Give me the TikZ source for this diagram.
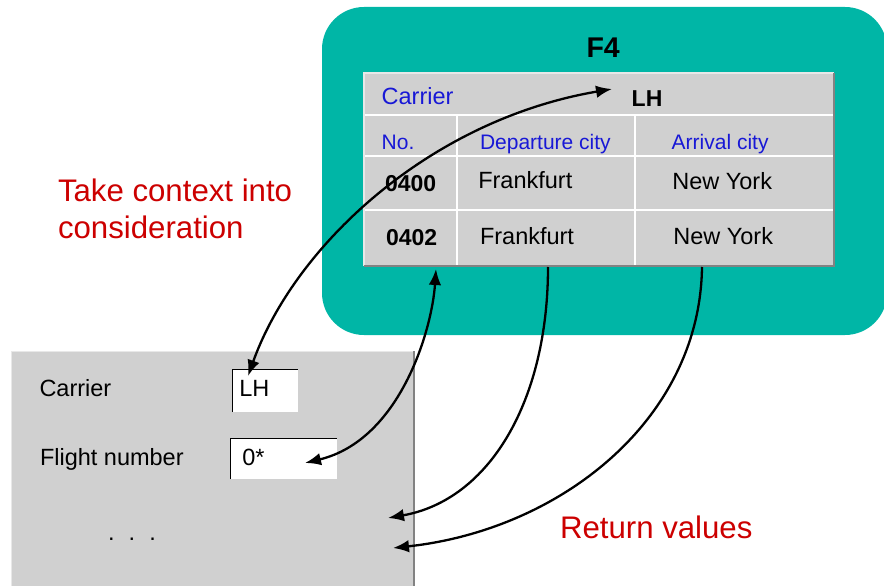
\documentclass[tikz,border=0pt]{standalone}
\usepackage{fontspec}
\setmainfont{Liberation Sans}
\usetikzlibrary{arrows.meta}
\definecolor{teal1}{RGB}{0,182,166}
\definecolor{cellgray}{RGB}{208,208,208}
\definecolor{hdrblue}{RGB}{24,24,214}
\definecolor{redtxt}{RGB}{204,0,0}
\definecolor{darkedge}{RGB}{130,130,130}
\definecolor{lightedge}{RGB}{232,232,232}
\tikzset{
  txt/.style={anchor=base west,inner sep=0pt,outer sep=0pt},
  cell/.style={txt,font=\fontsize{23.5}{28}\selectfont},
  cellb/.style={txt,font=\fontsize{23}{28}\selectfont\bfseries},
  hdr/.style={txt,text=hdrblue,font=\fontsize{21}{25}\selectfont},
  redlbl/.style={txt,text=redtxt,font=\fontsize{31.2}{36}\selectfont},
  conn/.style={line width=2.3pt,black},
  tipA/.style={-{Latex[length=16pt,width=12.5pt]}},
  tipB/.style={{Latex[length=16pt,width=12.5pt]}-{Latex[length=16pt,width=12.5pt]}},
}
\begin{document}
\begin{tikzpicture}[x=1pt,y=-1pt]
\useasboundingbox (0,0) rectangle (884,586);
% teal screen
\fill[teal1,rounded corners=42pt] (322,7) rectangle (887,335);
\node[txt,font=\fontsize{28.5}{34}\selectfont\bfseries] (f4) at (586.5,57.3) {F4};
% table
\fill[cellgray] (364,73) rectangle (834,266);
\draw[white,line width=2.5pt] (364,115) -- (834,115);
\draw[white,line width=2.5pt] (364,156) -- (834,156);
\draw[white,line width=2.5pt] (364,210) -- (834,210);
\draw[white,line width=2.5pt] (457,115) -- (457,266);
\draw[white,line width=2.5pt] (635,115) -- (635,266);
\draw[lightedge,line width=2pt] (364,266) -- (364,73) -- (834,73);
\draw[darkedge,line width=2pt] (364,266) -- (834,266) -- (834,73);
\node[hdr,font=\fontsize{23.5}{28}\selectfont] (tcarrier) at (381.7,105) {Carrier};
\node[cellb] (tlh) at (631.7,106.5) {LH};
\node[hdr] (tno) at (381.7,149.3) {No.};
\node[hdr] (tdep) at (480,149.3) {Departure city};
\node[hdr] (tarr) at (671.7,149.3) {Arrival city};
\node[cellb] (r1no) at (385,191) {0400};
\node[cell] (r1dep) at (478.3,188.5) {Frankfurt};
\node[cell] (r1arr) at (672.3,189.3) {New York};
\node[cellb] (r2no) at (386,245) {0402};
\node[cell] (r2dep) at (480,244.3) {Frankfurt};
\node[cell] (r2arr) at (673.3,244.3) {New York};
% red labels
\node[redlbl] (ctx1) at (58,201.7) {Take context into};
\node[redlbl] (ctx2) at (58,238.3) {consideration};
\node[redlbl] (ret) at (560,538.3) {Return values};
% selection panel
\fill[cellgray] (11,351) rectangle (415,590);
\draw[lightedge,line width=1.5pt] (11.5,590) -- (11.5,351.5) -- (414,351.5);
\draw[darkedge,line width=2pt] (414,351) -- (414,590);
\node[cell] (pcarrier) at (39.5,396.7) {Carrier};
\node[cell] (pflight) at (40,465) {Flight number};
\fill[white] (232,369) rectangle (298,412);
\draw[black,line width=1.3pt] (232.5,412) -- (232.5,369.5) -- (298,369.5);
\fill[white] (230,438) rectangle (337,479);
\draw[black,line width=1.3pt] (230.5,479) -- (230.5,438.5) -- (337,438.5);
\node[cell] (flh) at (239.3,396) {LH};
\node[cell] (fnum) at (242.3,465) {0*};
\node[cell] (dots) at (108,540) {.\hspace{0.6em}.\hspace{0.6em}.};
% connector end points
\coordinate (lhfieldtip) at (248,376);
\coordinate (lhtabletip) at (612,89);
\coordinate (numfieldtip) at (305,463);
\coordinate (numcoltip) at (436,269);
\coordinate (depbottom) at (548,267);
\coordinate (retA) at (388,518);
\coordinate (arrbottom) at (702,267);
\coordinate (retB) at (393,548);
% connectors
\draw[conn,tipB] (lhfieldtip) .. controls (295,245) and (430,120) .. (lhtabletip);
\draw[conn,tipB] (numfieldtip) .. controls (400,440) and (432,330) .. (numcoltip);
\draw[conn,tipA] (depbottom) .. controls (548,400) and (490,500) .. (retA);
\draw[conn,tipA] (arrbottom) .. controls (700,420) and (560,530) .. (retB);
\end{tikzpicture}
\end{document}
